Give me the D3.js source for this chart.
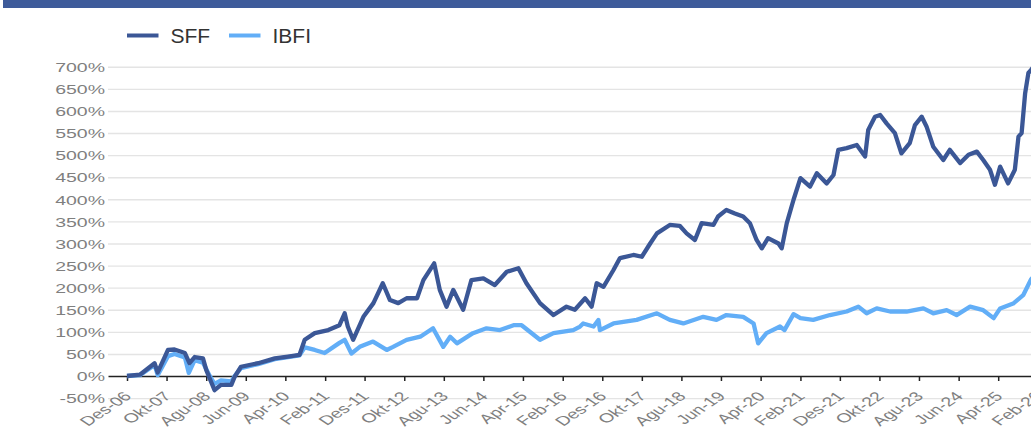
<!DOCTYPE html>
<html>
<head>
<meta charset="utf-8">
<script src="https://cdn.jsdelivr.net/npm/d3@7"></script>
<style>
  html, body { margin: 0; padding: 0; background: #fff; }
  svg { display: block; }
</style>
</head>
<body>
<svg id="chart" width="1031" height="442"></svg>
<script>
const seriesNames = ["SFF", "IBFI"];

const sffDates = ["2006-12-01","2007-03-10","2007-07-01","2007-07-25","2007-10-12","2007-12-01","2008-02-19","2008-03-25","2008-05-04","2008-07-07","2008-08-01","2008-09-07","2008-10-04","2008-11-22","2009-02-10","2009-03-07","2009-04-25","2009-09-04","2010-01-10","2010-04-22","2010-07-19","2010-08-28","2010-11-13","2011-02-25","2011-05-22","2011-07-01","2011-07-25","2011-09-04","2011-11-22","2012-02-07","2012-04-19","2012-06-13","2012-08-16","2012-10-19","2013-01-07","2013-02-25","2013-05-19","2013-07-01","2013-08-22","2013-10-13","2013-12-28","2014-03-01","2014-06-01","2014-08-28","2014-11-28","2015-02-25","2015-04-28","2015-08-10","2015-11-22","2016-03-01","2016-05-04","2016-07-22","2016-09-10","2016-10-19","2016-12-10","2017-02-25","2017-04-16","2017-07-28","2017-10-01","2017-12-04","2018-01-25","2018-05-04","2018-07-19","2018-09-10","2018-11-13","2019-01-04","2019-04-04","2019-05-10","2019-07-13","2019-09-16","2019-11-19","2020-01-10","2020-03-01","2020-04-10","2020-05-28","2020-08-16","2020-09-10","2020-10-19","2020-12-10","2021-02-01","2021-04-16","2021-06-07","2021-08-22","2021-10-13","2021-11-19","2022-01-22","2022-04-10","2022-06-13","2022-07-07","2022-08-28","2022-10-07","2022-11-25","2023-01-28","2023-03-19","2023-05-22","2023-07-01","2023-08-22","2023-09-28","2023-11-19","2024-02-04","2024-03-25","2024-06-13","2024-08-16","2024-10-19","2024-12-07","2025-01-28","2025-03-07","2025-04-16","2025-06-16","2025-08-07","2025-09-04","2025-09-28","2025-10-25","2025-11-19","2025-12-10","2026-01-10"];
const sffValues = [0,3,29,8,59,60,52,29,43,40,14,-13,-32,-20,-20,-2,21,29,40,44,48,82,97,104,115,142,112,82,134,165,210,172,165,176,176,217,255,195,157,195,150,217,221,206,236,244,210,165,138,157,150,176,157,210,202,240,267,274,270,300,323,342,340,323,308,346,342,361,376,368,361,346,308,289,312,300,289,346,399,448,429,459,436,455,512,516,523,497,557,587,591,572,550,504,527,568,587,565,519,489,512,482,501,508,489,467,433,474,436,467,542,550,640,686,693,705];

const ibfiDates = ["2006-12-01","2007-03-10","2007-07-01","2007-07-25","2007-10-12","2007-12-01","2008-02-19","2008-03-20","2008-05-04","2008-07-07","2008-08-16","2008-09-07","2008-10-04","2008-11-22","2009-02-10","2009-03-07","2009-04-25","2009-09-04","2010-01-10","2010-04-22","2010-07-19","2010-08-28","2010-11-13","2011-01-28","2011-05-22","2011-07-01","2011-08-22","2011-10-25","2012-02-04","2012-05-19","2012-07-07","2012-10-19","2013-02-01","2013-05-10","2013-07-28","2013-09-19","2013-11-10","2014-03-13","2014-06-25","2014-10-07","2015-01-19","2015-03-22","2015-08-10","2015-11-22","2016-04-22","2016-06-13","2016-07-07","2016-09-25","2016-11-01","2016-11-13","2017-02-25","2017-08-22","2018-01-25","2018-05-04","2018-08-16","2019-01-16","2019-04-28","2019-07-13","2019-11-19","2020-02-07","2020-03-13","2020-05-16","2020-08-28","2020-10-01","2020-12-10","2021-02-01","2021-05-10","2021-09-16","2022-01-22","2022-04-22","2022-06-25","2022-09-10","2022-12-22","2023-04-28","2023-09-04","2023-11-19","2024-03-01","2024-05-16","2024-08-28","2024-12-07","2025-02-25","2025-04-16","2025-07-25","2025-10-10","2025-12-10","2026-01-10"];
const ibfiValues = [0,2,25,2,45,50,42,7,36,30,7,-5,-18,-10,-12,0,18,27,38,43,47,65,59,52,75,82,51,66,78,59,66,82,89,108,66,89,74,97,108,104,115,115,82,97,104,112,119,112,127,104,119,127,142,127,119,134,127,138,134,119,74,97,112,104,140,131,127,138,146,157,142,153,146,146,153,142,149,138,157,149,131,153,164,183,219,228];

const yTickValues = [-50,0,50,100,150,200,250,300,350,400,450,500,550,600,650,700];
const xTickDates = ["2006-12-01","2007-10-01","2008-08-01","2009-06-01","2010-04-01","2011-02-01","2011-12-01","2012-10-01","2013-08-01","2014-06-01","2015-04-01","2016-02-01","2016-12-01","2017-10-01","2018-08-01","2019-06-01","2020-04-01","2021-02-01","2021-12-01","2022-10-01","2023-08-01","2024-06-01","2025-04-01","2026-02-01"];
const xTickLabels = ["Des-06","Okt-07","Agu-08","Jun-09","Apr-10","Feb-11","Des-11","Okt-12","Agu-13","Jun-14","Apr-15","Feb-16","Des-16","Okt-17","Agu-18","Jun-19","Apr-20","Feb-21","Des-21","Okt-22","Agu-23","Jun-24","Apr-25","Feb-26"];

const colors = { SFF: "#3b5796", IBFI: "#62aef7" };
const parse = d3.timeParse("%Y-%m-%d");
const W = 1031, H = 442;
const plotLeft = 108, plotRight = 1031;
const stretch = 1.5;
const axisFont = "'Liberation Sans', Arial, sans-serif";

const svg = d3.select("#chart");

// top banner
svg.append("rect").attr("x", 3).attr("y", 0).attr("width", W - 3).attr("height", 8).attr("fill", "#3e5b9a");

const x0 = d3.scaleTime().domain([parse("2006-12-01"), parse("2025-04-01")]).range([127, 998.2]);
const x = x0.copy().domain([x0.invert(plotLeft), x0.invert(plotRight)]).range([plotLeft, plotRight]);
const y = d3.scaleLinear().domain([-50, 700]).range([398.1, 66.8]);

// Y axis with gridlines
const yAxis = d3.axisLeft(y).tickValues(yTickValues).tickSize(-(plotRight - plotLeft)).tickPadding(3)
  .tickFormat(d => d + "%");
const gy = svg.append("g").attr("transform", `translate(${plotLeft},0)`).call(yAxis);
gy.select(".domain").remove();
gy.selectAll(".tick line").attr("stroke", "#e4e4e4").attr("stroke-width", 1.4);
gy.selectAll(".tick text")
  .attr("x", 0).attr("dy", "0.36em")
  .attr("transform", `translate(-3,0) scale(${stretch},1)`)
  .attr("fill", "#7f7f7f").style("font-family", axisFont).style("font-size", "13px");
gy.selectAll(".tick").filter(d => d === 0).select("line").attr("stroke", "none");

// X axis on zero line
const xAxis = d3.axisBottom(x).tickValues(xTickDates.map(parse))
  .tickFormat((d, i) => xTickLabels[i]).tickSize(5).tickSizeOuter(0);
const gx = svg.append("g").attr("transform", `translate(0,${y(0)})`).call(xAxis);
gx.select(".domain").attr("stroke", "#222").attr("stroke-width", 1.5);
gx.selectAll(".tick line").attr("stroke", "#222").attr("stroke-width", 1.5);
gx.selectAll(".tick text")
  .attr("x", 0).attr("y", 0).attr("dy", 0)
  .attr("text-anchor", "end")
  .attr("transform", `translate(5,21) scale(${stretch},1) rotate(-45)`)
  .attr("fill", "#7f7f7f").style("font-family", axisFont).style("font-size", "13px");

// lines
const line = d3.line().x(d => x(d.date)).y(d => y(d.value)).curve(d3.curveLinear);
const series = [
  { name: "IBFI", dates: ibfiDates, values: ibfiValues },
  { name: "SFF", dates: sffDates, values: sffValues }
];
series.forEach(s => {
  const pts = s.dates.map((d, i) => ({ date: parse(d), value: s.values[i] }));
  svg.append("path").datum(pts)
    .attr("fill", "none").attr("stroke", colors[s.name])
    .attr("stroke-width", 4.3).attr("stroke-linejoin", "round")
    .attr("d", line);
});

// legend
const legend = svg.append("g");
const legendPos = [{ name: "SFF", x: 127 }, { name: "IBFI", x: 229 }];
legendPos.forEach(l => {
  legend.append("line").attr("x1", l.x).attr("x2", l.x + 31.5).attr("y1", 35.5).attr("y2", 35.5)
    .attr("stroke", colors[l.name]).attr("stroke-width", 4);
  legend.append("text").attr("x", l.x + 43.5).attr("y", 43.3).text(l.name)
    .attr("fill", "#333").style("font-family", axisFont).style("font-size", "21px");
});
</script>
</body>
</html>
